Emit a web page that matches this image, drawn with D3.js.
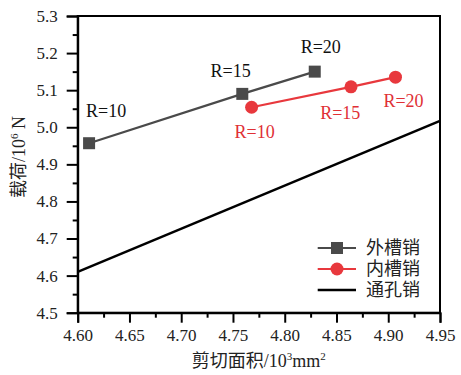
<!DOCTYPE html>
<html>
<head>
<meta charset="utf-8">
<script src="https://cdn.jsdelivr.net/npm/d3@7"></script>
<style>
  html, body { margin: 0; padding: 0; background: #fff; }
  svg { display: block; }
</style>
</head>
<body>
<svg id="chart" width="461" height="375"></svg>
<script>
// Shear area (10^3 mm^2) vs. load (10^6 N)
const outerArea = [4.611, 4.759, 4.829];
const outerLoad = [4.957, 5.090, 5.150];
const innerArea = [4.768, 4.864, 4.907];
const innerLoad = [5.054, 5.109, 5.135];
const radiusLabels = ["R=10", "R=15", "R=20"];
const throughArea = [4.60, 4.95];
const throughLoad = [4.610, 5.017];
const xTicks = [4.60, 4.65, 4.70, 4.75, 4.80, 4.85, 4.90, 4.95];
const yTicks = [4.5, 4.6, 4.7, 4.8, 4.9, 5.0, 5.1, 5.2, 5.3];
const seriesNames = ["外槽销", "内槽销", "通孔销"];

const GRAY = "#4a4a4a", RED = "#e8383d", BLACK = "#000";
const SERIF = "'Liberation Serif', 'Times New Roman', 'DejaVu Serif', serif";
const CJK = "'Noto Sans CJK SC', sans-serif";

const svg = d3.select("#chart");
const L = 77.7, R = 440, T = 16, B = 312.7;

const x = d3.scaleLinear().domain([4.60, 4.95]).range([L, R]);
const y = d3.scaleLinear().domain([4.5, 5.3]).range([B, T]);

// frame (top and right)
svg.append("rect").attr("x", L).attr("y", T).attr("width", R - L).attr("height", B - T)
  .attr("fill", "none").attr("stroke", "#000").attr("stroke-width", 2);

// minor ticks
const xMinor = d3.range(0, 15).map(i => 4.60 + i * 0.025).filter((v, i) => i % 2 === 1);
const yMinor = d3.range(0, 17).map(i => 4.5 + i * 0.05).filter((v, i) => i % 2 === 1);

const xAxis = svg.append("g").attr("transform", `translate(0,${B})`)
  .call(d3.axisBottom(x).tickValues(xTicks).tickFormat(d3.format(".2f")).tickSize(10).tickPadding(4));
svg.append("g").attr("transform", `translate(0,${B})`)
  .call(d3.axisBottom(x).tickValues(xMinor).tickFormat("").tickSize(5))
  .call(g => g.select(".domain").remove());

const yAxis = svg.append("g").attr("transform", `translate(${L},0)`)
  .call(d3.axisLeft(y).tickValues(yTicks).tickFormat(d3.format(".1f")).tickSize(11).tickPadding(9));
svg.append("g").attr("transform", `translate(${L},0)`)
  .call(d3.axisLeft(y).tickValues(yMinor).tickFormat("").tickSize(5))
  .call(g => g.select(".domain").remove());

svg.selectAll(".domain").attr("stroke-width", 2);
svg.selectAll(".tick line").attr("stroke-width", 2);
svg.selectAll(".tick text")
  .style("font-family", SERIF).attr("font-size", 17).attr("fill", "#222");
xAxis.selectAll(".tick text").attr("dy", "0.85em");

// through-hole pin line
svg.append("line")
  .attr("x1", x(throughArea[0])).attr("y1", y(throughLoad[0]))
  .attr("x2", x(throughArea[1])).attr("y2", y(throughLoad[1]))
  .attr("stroke", BLACK).attr("stroke-width", 2.5);

const line = d3.line().x(d => x(d[0])).y(d => y(d[1]));
const outerPts = outerArea.map((v, i) => [v, outerLoad[i]]);
const innerPts = innerArea.map((v, i) => [v, innerLoad[i]]);

svg.append("path").attr("d", line(outerPts)).attr("fill", "none")
  .attr("stroke", GRAY).attr("stroke-width", 2.2);
svg.append("path").attr("d", line(innerPts)).attr("fill", "none")
  .attr("stroke", RED).attr("stroke-width", 2.2);

svg.selectAll(".sq").data(outerPts).enter().append("rect")
  .attr("x", d => x(d[0]) - 6).attr("y", d => y(d[1]) - 6)
  .attr("width", 12).attr("height", 12).attr("fill", GRAY);
svg.selectAll(".ci").data(innerPts).enter().append("circle")
  .attr("cx", d => x(d[0])).attr("cy", d => y(d[1])).attr("r", 6.5).attr("fill", RED);

// point labels
const outerOffsets = [[-3, -26, "start"], [-11.6, -17.3, "middle"], [6, -18.4, "middle"]];
const innerOffsets = [[3, 31, "middle"], [-10.7, 32.3, "middle"], [8, 30, "middle"]];
outerPts.forEach((d, i) => {
  svg.append("text").attr("x", x(d[0]) + outerOffsets[i][0]).attr("y", y(d[1]) + outerOffsets[i][1])
    .attr("text-anchor", outerOffsets[i][2]).style("font-family", SERIF).attr("font-size", 18)
    .attr("fill", "#111").text(radiusLabels[i]);
});
innerPts.forEach((d, i) => {
  svg.append("text").attr("x", x(d[0]) + innerOffsets[i][0]).attr("y", y(d[1]) + innerOffsets[i][1])
    .attr("text-anchor", innerOffsets[i][2]).style("font-family", SERIF).attr("font-size", 18)
    .attr("fill", "#e03035").text(radiusLabels[i]);
});

// axis titles
const xt = svg.append("text").attr("x", (L + R) / 2).attr("y", 367)
  .attr("text-anchor", "middle").style("font-family", SERIF).attr("font-size", 18).attr("fill", "#222");
xt.append("tspan").style("font-family", CJK).text("剪切面积");
xt.append("tspan").text("/10");
xt.append("tspan").attr("font-size", 11).attr("dy", -7).text("3");
xt.append("tspan").attr("dy", 7).text("mm");
xt.append("tspan").attr("font-size", 11).attr("dy", -7).text("2");

const yt = svg.append("text").attr("transform", "translate(25,157) rotate(-90)")
  .attr("text-anchor", "middle").style("font-family", SERIF).attr("font-size", 18).attr("fill", "#222");
yt.append("tspan").style("font-family", CJK).text("载荷");
yt.append("tspan").text("/10");
yt.append("tspan").attr("font-size", 11).attr("dy", -7).text("6");
yt.append("tspan").attr("dy", 7).text(" N");

// legend
const legend = svg.append("g");
const rows = [248, 269, 290];
const lx0 = 317.7, lx1 = 356, lmx = 337;
legend.append("line").attr("x1", lx0).attr("x2", lx1).attr("y1", rows[0]).attr("y2", rows[0])
  .attr("stroke", GRAY).attr("stroke-width", 2);
legend.append("rect").attr("x", lmx - 6).attr("y", rows[0] - 6).attr("width", 12).attr("height", 12).attr("fill", GRAY);
legend.append("line").attr("x1", lx0).attr("x2", lx1).attr("y1", rows[1]).attr("y2", rows[1])
  .attr("stroke", RED).attr("stroke-width", 2);
legend.append("circle").attr("cx", lmx).attr("cy", rows[1]).attr("r", 6.5).attr("fill", RED);
legend.append("line").attr("x1", lx0).attr("x2", lx1).attr("y1", rows[2]).attr("y2", rows[2])
  .attr("stroke", BLACK).attr("stroke-width", 2.5);
seriesNames.forEach((n, i) => {
  legend.append("text").attr("x", 366).attr("y", rows[i]).attr("dy", "0.35em")
    .style("font-family", CJK).attr("font-size", 18).attr("fill", "#222").text(n);
});
</script>
</body>
</html>
